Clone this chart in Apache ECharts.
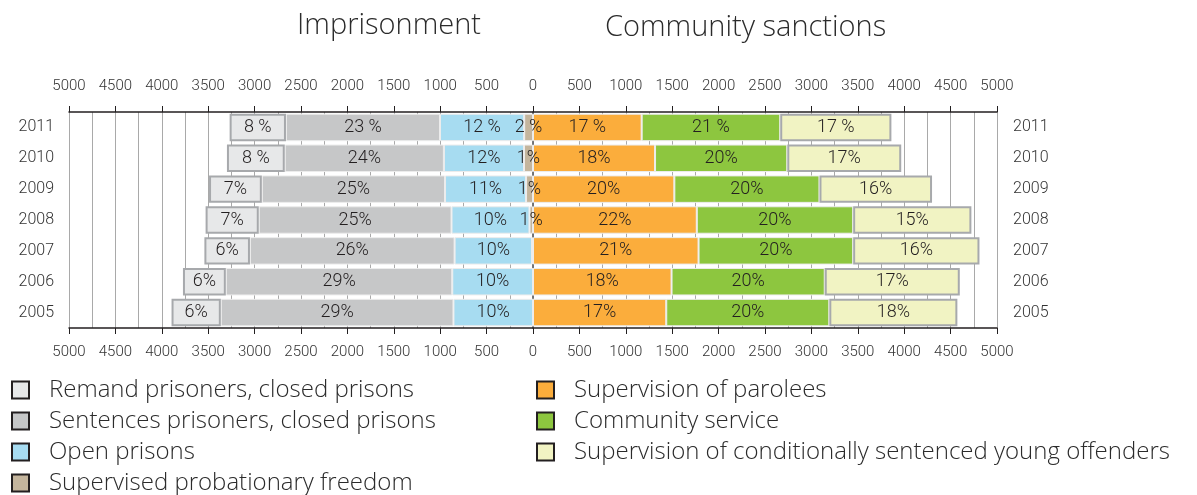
<!DOCTYPE html>
<html>
<head>
<meta charset="utf-8">
<script src="https://cdn.jsdelivr.net/npm/echarts@6/dist/echarts.min.js"></script>
<style>
  html, body { margin: 0; padding: 0; background: #fff; }
  #chart { width: 1197px; height: 495px; }
</style>
</head>
<body>
<div id="chart"></div>
<script>
// Years, bottom to top
const years = ['2005', '2006', '2007', '2008', '2009', '2010', '2011'];

// Imprisonment (drawn to the left of zero)
const remandPrisoners = [531, 462, 491, 573, 569, 623, 607];
const sentencedPrisoners = [2507, 2440, 2205, 2077, 1974, 1715, 1660];
const openPrisons = [857, 870, 835, 840, 873, 863, 907];
const probationaryFreedom = [0, 0, 10, 38, 75, 97, 95];

// Community sanctions (drawn to the right of zero)
const parolees = [1436, 1493, 1784, 1765, 1523, 1315, 1171];
const communityService = [1757, 1651, 1666, 1685, 1564, 1425, 1493];
const youngOffenders = [1380, 1455, 1361, 1274, 1213, 1228, 1198];

// Share of the year's total, as printed on each segment
const remandShare = ['6%', '6%', '6%', '7%', '7%', '8 %', '8 %'];
const sentencedShare = ['29%', '29%', '26%', '25%', '25%', '24%', '23 %'];
const openShare = ['10%', '10%', '10%', '10%', '11%', '12%', '12 %'];
const probationShare = ['', '', '', '1%', '1%', '1%', '2 %'];
const paroleeShare = ['17%', '18%', '21%', '22%', '20%', '18%', '17 %'];
const serviceShare = ['20%', '20%', '20%', '20%', '20%', '20%', '21 %'];
const youngShare = ['18%', '17%', '16%', '15%', '16%', '17%', '17 %'];

const axisMin = -5000;
const axisMax = 5000;
const axisStep = 500;

const FONT = 'Roboto';
const TEXT_FONT = '"Open Sans", Roboto, sans-serif';
const INK = '#231f20';

function makeSeries(name, values, shares, color, outlined, negative) {
  return {
    name: name,
    type: 'bar',
    stack: 'total',
    barCategoryGap: '11%',
    data: values.map(v => negative ? -v : v),
    itemStyle: {
      color: color,
      borderColor: outlined ? '#a7a9ac' : '#ececec',
      borderWidth: outlined ? 2 : 1
    },
    label: {
      show: true,
      position: 'inside',
      color: INK,
      fontFamily: FONT,
      fontWeight: 300,
      fontSize: 18,
      formatter: p => shares[p.dataIndex]
    },
    emphasis: { disabled: true }
  };
}

const names = {
  remand: 'Remand prisoners, closed prisons',
  sentenced: 'Sentences prisoners, closed prisons',
  open: 'Open prisons',
  probation: 'Supervised probationary freedom',
  parolees: 'Supervision of parolees',
  service: 'Community service',
  young: 'Supervision of conditionally sentenced young offenders'
};

const tickLabel = {
  fontFamily: FONT,
  fontWeight: 300,
  fontSize: 15,
  color: '#333',
  formatter: v => String(Math.abs(v))
};

const chart = echarts.init(document.getElementById('chart'), null, { renderer: 'canvas' });

const legendText = {
  fontFamily: TEXT_FONT,
  fontWeight: 300,
  fontSize: 24,
  color: '#2b2b2b',
  lineHeight: 22,
  padding: [0, 0, 0, 15]
};

function legendBlock(left, items) {
  return {
    orient: 'vertical',
    left: left, top: 378,
    height: 140,
    padding: 0,
    itemWidth: 17, itemHeight: 17, itemGap: 7,
    icon: 'rect',
    selectedMode: false,
    itemStyle: { borderColor: INK, borderWidth: 2 },
    textStyle: legendText,
    data: items
  };
}

chart.setOption({
  animation: false,
  backgroundColor: '#fff',
  graphic: [
    {
      type: 'text', left: 297, top: 11,
      style: { text: 'Imprisonment', font: '300 29px ' + TEXT_FONT, fill: '#2b2b2b' }
    },
    {
      type: 'text', left: 605, top: 13,
      style: { text: 'Community sanctions', font: '300 29px ' + TEXT_FONT, fill: '#2b2b2b' }
    }
  ],
  legend: [
    legendBlock(11, [names.remand, names.sentenced, names.open, names.probation]),
    legendBlock(536, [names.parolees, names.service, names.young])
  ],
  grid: { left: 69, right: 200, top: 112, bottom: 167, containLabel: false },
  xAxis: [
    {
      type: 'value', position: 'top',
      min: axisMin, max: axisMax, interval: axisStep,
      axisLine: { show: true, lineStyle: { color: INK, width: 1.5 } },
      axisTick: { show: true, length: 6, lineStyle: { color: INK } },
      axisLabel: Object.assign({ margin: 18 }, tickLabel),
      splitLine: { show: true, lineStyle: { color: '#a9a9a9', width: 1 } },
      minorTick: { show: false, splitNumber: 2 },
      minorSplitLine: { show: true, lineStyle: { color: '#a9a9a9', width: 1 } }
    },
    {
      type: 'value', position: 'bottom',
      min: axisMin, max: axisMax, interval: axisStep,
      axisLine: { show: true, lineStyle: { color: INK, width: 1.5 } },
      axisTick: { show: true, length: 6, lineStyle: { color: INK } },
      axisLabel: Object.assign({ margin: 17 }, tickLabel),
      splitLine: { show: false }
    }
  ],
  yAxis: [
    {
      type: 'category', position: 'left', data: years,
      axisLine: { show: true, lineStyle: { color: '#6d6e71', width: 1.5 } },
      axisTick: { show: false },
      axisLabel: { fontFamily: FONT, fontWeight: 300, fontSize: 16, color: '#333', margin: 15 }
    },
    {
      type: 'category', position: 'right', data: years,
      axisLine: { show: true, lineStyle: { color: '#6d6e71', width: 1.5 } },
      axisTick: { show: false },
      axisLabel: { fontFamily: FONT, fontWeight: 300, fontSize: 16, color: '#333', margin: 16 }
    }
  ],
  series: [
    makeSeries(names.probation, probationaryFreedom, probationShare, '#c4b59d', false, true),
    makeSeries(names.open, openPrisons, openShare, '#a7dcf1', false, true),
    makeSeries(names.sentenced, sentencedPrisoners, sentencedShare, '#c6c7c8', false, true),
    makeSeries(names.remand, remandPrisoners, remandShare, '#e7e8e9', true, true),
    makeSeries(names.parolees, parolees, paroleeShare, '#fbad3c', false, false),
    makeSeries(names.service, communityService, serviceShare, '#8dc63f', false, false),
    makeSeries(names.young, youngOffenders, youngShare, '#f1f3c3', true, false)
  ]
});
</script>
</body>
</html>
